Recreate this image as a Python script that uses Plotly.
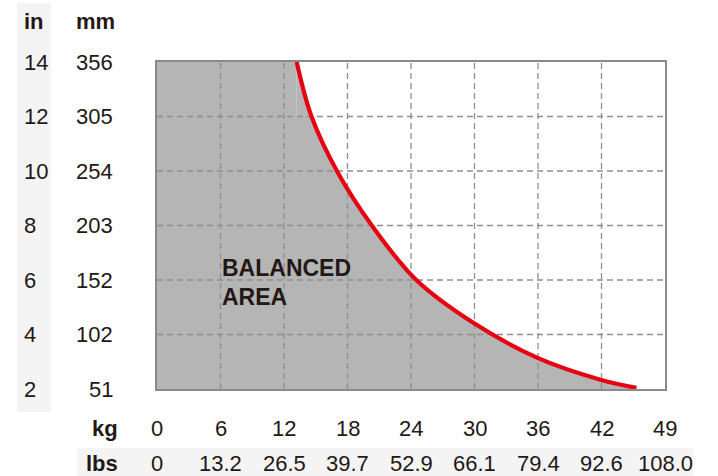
import plotly.graph_objects as go

# ---- data ----
kg_ticks = [0, 6, 12, 18, 24, 30, 36, 42, 48]
kg_labels = ["0", "6", "12", "18", "24", "30", "36", "42", "49"]
lbs_labels = ["0", "13.2", "26.5", "39.7", "52.9", "66.1", "79.4", "92.6", "108.0"]
in_ticks = [2, 4, 6, 8, 10, 12, 14]
in_labels = ["2", "4", "6", "8", "10", "12", "14"]
mm_labels = ["51", "102", "152", "203", "254", "305", "356"]

curve_kg = [13.2, 14.6, 17.0, 20.3, 24.5, 30.0, 35.9, 41.9, 45.3]
curve_in = [14.0, 12.0, 10.0, 8.0, 6.0, 4.4, 3.15, 2.34, 2.04]

# ---- style ----
FONT = "Liberation Sans, Arial, sans-serif"
TXT = "#231815"
GRAY_FILL = "#b5b5b5"
GRID = "#8f8f8f"
RED = "#e60012"
BAND = "#f4f4f4"

W, H = 718, 476
ML, MR, MT, MB = 157, 53, 62, 87
PW, PH = W - ML - MR, H - MT - MB


def px_x(p):
    return (p - ML) / PW


def px_y(p):
    return (H - MB - p) / PH


xmin, xmax = kg_ticks[0], kg_ticks[-1]
ymin, ymax = in_ticks[0], in_ticks[-1]

fig = go.Figure()

# balanced area: left block + region under curve
fig.add_trace(go.Scatter(
    x=[xmin, curve_kg[0], curve_kg[0], curve_kg[1]],
    y=[ymax, ymax, curve_in[1], curve_in[1]],
    mode="lines", line=dict(width=0), fill="tozeroy", fillcolor=GRAY_FILL,
    hoverinfo="skip", showlegend=False))
fig.add_trace(go.Scatter(
    x=curve_kg, y=curve_in, mode="lines",
    line=dict(width=0, shape="spline"), fill="tozeroy", fillcolor=GRAY_FILL,
    hoverinfo="skip", showlegend=False))

# dashed grid drawn over the fill
gx, gy = [], []
for v in kg_ticks[1:-1]:
    gx += [v, v, None]
    gy += [ymin, ymax, None]
for v in in_ticks[1:-1]:
    gx += [xmin, xmax, None]
    gy += [v, v, None]
fig.add_trace(go.Scatter(
    x=gx, y=gy, mode="lines",
    line=dict(color=GRID, width=1.3, dash="6px,4px"),
    hoverinfo="skip", showlegend=False))

# red limit curve
fig.add_trace(go.Scatter(
    x=curve_kg, y=curve_in, mode="lines",
    line=dict(color=RED, width=4.2, shape="spline"),
    hoverinfo="skip", showlegend=False))

num = dict(family=FONT, size=22, color=TXT)
ann = []
for v, t in zip(kg_ticks, kg_labels):
    ann.append(dict(x=v, y=px_y(428), xref="x", yref="paper", text=t, font=num,
                    showarrow=False, xanchor="center", yanchor="middle"))
for v, t in zip(kg_ticks, lbs_labels):
    ann.append(dict(x=v, y=px_y(463), xref="x", yref="paper", text=t, font=num,
                    showarrow=False, xanchor="center", yanchor="middle"))
for v, t in zip(in_ticks, mm_labels):
    ann.append(dict(x=px_x(115), y=v, xref="paper", yref="y", text=t, font=num,
                    showarrow=False, xanchor="right", yanchor="middle"))
for v, t in zip(in_ticks, in_labels):
    ann.append(dict(x=px_x(22), y=v, xref="paper", yref="y", text=t, font=num,
                    showarrow=False, xanchor="left", yanchor="middle"))

bold = dict(family=FONT, size=22, color=TXT)
big = dict(family=FONT, size=23, color=TXT)
ann += [
    dict(x=px_x(22), y=px_y(21), xref="paper", yref="paper", text="<b>in</b>",
         showarrow=False, xanchor="left", yanchor="middle", font=bold),
    dict(x=px_x(117), y=px_y(21), xref="paper", yref="paper", text="<b>mm</b>",
         showarrow=False, xanchor="right", yanchor="middle", font=bold),
    dict(x=px_x(120), y=px_y(428), xref="paper", yref="paper", text="<b>kg</b>",
         showarrow=False, xanchor="right", yanchor="middle", font=bold),
    dict(x=px_x(120), y=px_y(463), xref="paper", yref="paper", text="<b>lbs</b>",
         showarrow=False, xanchor="right", yanchor="middle", font=bold),
    dict(x=5.95, y=6.44, xref="x", yref="y", text="<b>BALANCED</b>",
         showarrow=False, xanchor="left", yanchor="middle", font=big),
    dict(x=5.95, y=5.38, xref="x", yref="y", text="<b>AREA</b>",
         showarrow=False, xanchor="left", yanchor="middle", font=big),
]

shapes = [
    dict(type="rect", xref="paper", yref="paper", layer="below",
         x0=px_x(17), x1=px_x(51), y0=px_y(3), y1=px_y(412),
         fillcolor=BAND, line=dict(width=0)),
    dict(type="rect", xref="paper", yref="paper", layer="below",
         x0=px_x(77), x1=px_x(693), y0=px_y(448), y1=px_y(476),
         fillcolor=BAND, line=dict(width=0)),
]

axis_common = dict(showgrid=False, zeroline=False, showticklabels=False,
                   ticks="", showline=True, mirror=True,
                   linecolor="#8a8a8a", linewidth=2)

fig.update_layout(
    width=W, height=H, autosize=False,
    margin=dict(l=ML, r=MR, t=MT, b=MB, pad=0),
    paper_bgcolor="white", plot_bgcolor="white",
    font=dict(family=FONT, size=22, color=TXT),
    xaxis=dict(range=[xmin, xmax], **axis_common),
    yaxis=dict(range=[ymin, ymax], **axis_common),
    annotations=ann, shapes=shapes, showlegend=False,
)

fig.write_html("out.html", config={"displayModeBar": False},
               post_script="document.body.style.margin='0';"
                           "document.body.style.overflow='hidden';")
